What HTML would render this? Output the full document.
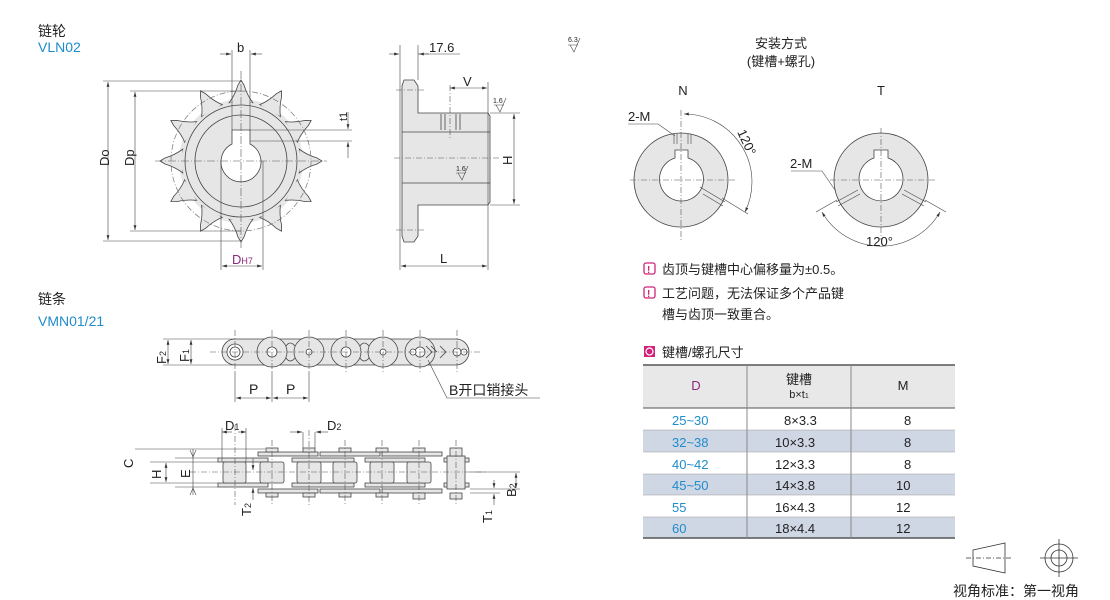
<!DOCTYPE html>
<html><head><meta charset="utf-8"><style>
body{margin:0;background:#fff;width:1110px;height:600px;overflow:hidden}
svg{display:block}
text{font-family:"Liberation Sans","Noto Sans CJK SC",sans-serif;fill:#222}
.c{font-family:"Liberation Sans","Noto Sans CJK SC",sans-serif}
</style></head><body>
<svg width="1110" height="600" viewBox="0 0 1110 600" xmlns="http://www.w3.org/2000/svg">
<defs>
<marker id="a" viewBox="0 0 10 6" refX="10" refY="3" markerWidth="8" markerHeight="5" orient="auto-start-reverse"><path d="M0,0L10,3L0,6z" fill="#333"/></marker>
<path id="tooth" d="M-12,-58 Q-6,-66 -3,-76 L0,-81 L3,-76 Q6,-66 12,-58Z" fill="#e6e6e6" stroke="#444" stroke-width="0.8"/>
</defs>
<g stroke="#444" stroke-width="0.8" fill="none">
<!-- titles -->
</g>
<text x="38" y="36" font-size="14">链轮</text>
<text x="38" y="52" font-size="14" style="fill:#1f8ccc">VLN02</text>
<text x="38" y="304" font-size="14">链条</text>
<text x="38" y="326" font-size="14" style="fill:#1f8ccc">VMN01/21</text>

<!-- sprocket front -->
<g transform="translate(241,161)">
<circle r="62" fill="#e6e6e6" stroke="none"/>
<g>
<use href="#tooth"/><use href="#tooth" transform="rotate(30)"/><use href="#tooth" transform="rotate(60)"/><use href="#tooth" transform="rotate(90)"/><use href="#tooth" transform="rotate(120)"/><use href="#tooth" transform="rotate(150)"/><use href="#tooth" transform="rotate(180)"/><use href="#tooth" transform="rotate(210)"/><use href="#tooth" transform="rotate(240)"/><use href="#tooth" transform="rotate(270)"/><use href="#tooth" transform="rotate(300)"/><use href="#tooth" transform="rotate(330)"/>
</g>
<circle r="59" fill="#e6e6e6" stroke="none"/>
<circle r="70" fill="none" stroke="#777" stroke-width="0.7" stroke-dasharray="6,2,1,2"/>
<circle r="56" fill="#e6e6e6" stroke="#444" stroke-width="0.8"/>
<circle r="46" fill="none" stroke="#444" stroke-width="0.8"/>
<path d="M-9,-17 L-9,-31 L9,-31 L9,-17 A20,20 0 1 1 -9,-17Z" fill="#fff" stroke="#444" stroke-width="0.8"/>
<g stroke="#555" stroke-width="0.6" stroke-dasharray="8,2,1,2"><line x1="-86" y1="0" x2="86" y2="0"/><line x1="0" y1="-90" x2="0" y2="88"/></g>
</g>
<g stroke="#444" stroke-width="0.6" fill="none">
<line x1="103" y1="81" x2="241" y2="81"/><line x1="103" y1="241" x2="241" y2="241"/>
<line x1="108" y1="82" x2="108" y2="240" marker-start="url(#a)" marker-end="url(#a)"/>
<line x1="130" y1="91" x2="241" y2="91"/><line x1="130" y1="231" x2="241" y2="231"/>
<line x1="135" y1="92" x2="135" y2="230" marker-start="url(#a)" marker-end="url(#a)"/>
<line x1="232" y1="50" x2="232" y2="130"/><line x1="250" y1="50" x2="250" y2="130"/>
<line x1="220" y1="54" x2="231" y2="54" marker-end="url(#a)"/><line x1="262" y1="54" x2="251" y2="54" marker-end="url(#a)"/>
<line x1="250" y1="130" x2="352" y2="130"/><line x1="250" y1="141" x2="352" y2="141"/>
<line x1="348" y1="112" x2="348" y2="129" marker-end="url(#a)"/><line x1="348" y1="158" x2="348" y2="142" marker-end="url(#a)"/>
<line x1="221" y1="161" x2="221" y2="270"/><line x1="263" y1="161" x2="263" y2="270"/>
<line x1="222" y1="266" x2="262" y2="266" marker-start="url(#a)" marker-end="url(#a)"/>
</g>
<text x="237" y="52" font-size="13">b</text>
<text x="0" y="0" font-size="13" transform="translate(109,166) rotate(-90)">Do</text>
<text x="0" y="0" font-size="13" transform="translate(134,166) rotate(-90)">Dp</text>
<text x="0" y="0" font-size="11" transform="translate(347,121) rotate(-90)">t1</text>
<text x="232" y="264" font-size="13" style="fill:#8b2a7e">D<tspan font-size="9">H7</tspan></text>

<!-- sprocket side -->
<g stroke="#444" stroke-width="0.8">
<path d="M404,80 L414,80 L418,86 L418,113 L488,113 L490,116 L490,202 L488,205 L418,205 L418,236 L414,242 L404,242 L402,236 L402,86Z" fill="#e6e6e6"/>
<line x1="402" y1="132" x2="490" y2="132"/><line x1="402" y1="183" x2="490" y2="183"/>
<line x1="441" y1="114" x2="441" y2="130"/><line x1="445" y1="114" x2="445" y2="130"/><line x1="456" y1="114" x2="456" y2="130"/><line x1="460" y1="114" x2="460" y2="130"/>
</g>
<g stroke="#555" stroke-width="0.6" fill="none" stroke-dasharray="6,2,1,2">
<line x1="394" y1="158" x2="500" y2="158"/><line x1="396" y1="90" x2="424" y2="90"/><line x1="396" y1="230" x2="424" y2="230"/><line x1="450" y1="85" x2="450" y2="140"/>
</g>
<g stroke="#444" stroke-width="0.6" fill="none">
<line x1="400" y1="45" x2="400" y2="270"/><line x1="418" y1="45" x2="418" y2="80"/>
<line x1="389" y1="54" x2="399" y2="54" marker-end="url(#a)"/><line x1="429" y1="54" x2="419" y2="54" marker-end="url(#a)"/><line x1="418" y1="54" x2="460" y2="54"/>
<line x1="488" y1="82" x2="488" y2="270"/>
<line x1="450" y1="88" x2="487" y2="88" marker-start="url(#a)" marker-end="url(#a)"/>
<line x1="490" y1="113" x2="520" y2="113"/><line x1="490" y1="205" x2="520" y2="205"/>
<line x1="514" y1="114" x2="514" y2="204" marker-start="url(#a)" marker-end="url(#a)"/>
<line x1="401" y1="266" x2="487" y2="266" marker-start="url(#a)" marker-end="url(#a)"/>
<path d="M496,105 L500,112 L506,98 M494,105 L504,105"/>
<path d="M458,173 L462,180 L468,166 M456,173 L466,173"/>
<path d="M570,45 L574,52 L580,38 M568,45 L578,45"/>
</g>
<text x="429" y="52" font-size="13">17.6</text>
<text x="463" y="86" font-size="13">V</text>
<text x="0" y="0" font-size="13" transform="translate(512,165) rotate(-90)">H</text>
<text x="440" y="263" font-size="13">L</text>
<text x="493" y="103" font-size="7">1.6</text>
<text x="456" y="171" font-size="7">1.6</text>
<text x="568" y="42" font-size="7">6.3</text>

<!-- chain top -->
<g stroke="#444" stroke-width="0.8">
<path d="M235,339 L456,339 A13,13 0 0 1 456,365 L235,365 A13,13 0 0 1 235,339Z" fill="#e6e6e6"/>
<g fill="#e6e6e6"><circle cx="272" cy="352" r="15"/><circle cx="309" cy="352" r="15"/><circle cx="346" cy="352" r="15"/><circle cx="383" cy="352" r="15"/><circle cx="420" cy="352" r="15"/></g>
<path d="M286,346 Q290,340 295,346 M286,358 Q290,364 295,358 M360,346 Q364,340 369,346 M360,358 Q364,364 369,358" fill="#e6e6e6"/>
<circle cx="235" cy="352" r="8" fill="#fff"/><circle cx="235" cy="352" r="5" fill="#fff"/>
<g fill="#fff"><circle cx="272" cy="352" r="5"/><circle cx="346" cy="352" r="5"/><circle cx="420" cy="352" r="5"/><circle cx="309" cy="352" r="3"/><circle cx="383" cy="352" r="3"/><circle cx="457" cy="352" r="4"/><circle cx="464" cy="352" r="3"/><circle cx="413" cy="352" r="3"/></g>
<path d="M426,346 L432,352 L426,358 M431,346 L437,352 M440,346 L446,352 L440,358" fill="none"/>
</g>
<g stroke="#555" stroke-width="0.6" stroke-dasharray="6,2,1,2" fill="none"><line x1="210" y1="352" x2="480" y2="352"/>
<line x1="235" y1="330" x2="235" y2="372"/><line x1="272" y1="330" x2="272" y2="372"/><line x1="309" y1="330" x2="309" y2="372"/><line x1="346" y1="330" x2="346" y2="372"/><line x1="383" y1="330" x2="383" y2="372"/><line x1="420" y1="330" x2="420" y2="372"/><line x1="457" y1="330" x2="457" y2="372"/></g>
<g stroke="#444" stroke-width="0.6" fill="none">
<line x1="163" y1="339" x2="235" y2="339"/><line x1="163" y1="365" x2="235" y2="365"/>
<line x1="168" y1="340" x2="168" y2="364" marker-start="url(#a)" marker-end="url(#a)"/>
<line x1="191" y1="340" x2="191" y2="364" marker-start="url(#a)" marker-end="url(#a)"/>
<line x1="235" y1="372" x2="235" y2="402"/><line x1="272" y1="372" x2="272" y2="402"/><line x1="309" y1="372" x2="309" y2="402"/>
<line x1="236" y1="398" x2="271" y2="398" marker-start="url(#a)" marker-end="url(#a)"/><line x1="273" y1="398" x2="308" y2="398" marker-start="url(#a)" marker-end="url(#a)"/>
<path d="M428,360 L447,398 L540,398"/>
</g>
<text x="0" y="0" font-size="13" transform="translate(166,364) rotate(-90)">F<tspan font-size="9">2</tspan></text>
<text x="0" y="0" font-size="13" transform="translate(189,362) rotate(-90)">F<tspan font-size="9">1</tspan></text>
<text x="249" y="394" font-size="14">P</text><text x="286" y="394" font-size="14">P</text>
<text x="449" y="395" font-size="14">B开口销接头</text>

<!-- chain bottom -->
<g stroke="#444" stroke-width="0.8" fill="#e6e6e6">
<rect x="258" y="452" width="60" height="4"/><rect x="320" y="452" width="60" height="4"/><rect x="382" y="452" width="60" height="4"/>
<rect x="258" y="489" width="60" height="4"/><rect x="320" y="489" width="60" height="4"/><rect x="382" y="489" width="60" height="4"/>
<rect x="218" y="458" width="50" height="4"/><rect x="292" y="458" width="62" height="4"/><rect x="365" y="458" width="60" height="4"/><rect x="444" y="458" width="25" height="4"/>
<rect x="218" y="483" width="50" height="4"/><rect x="292" y="483" width="62" height="4"/><rect x="365" y="483" width="60" height="4"/><rect x="444" y="483" width="25" height="4"/>
<rect x="223" y="462" width="23" height="21" rx="2"/><rect x="260" y="462" width="24" height="21" rx="2"/><rect x="297" y="462" width="24" height="21" rx="2"/><rect x="333" y="462" width="24" height="21" rx="2"/><rect x="370" y="462" width="24" height="21" rx="2"/><rect x="407" y="462" width="24" height="21" rx="2"/>
<rect x="447" y="456" width="18" height="33"/>
<rect x="266" y="448" width="12" height="4"/><rect x="303" y="448" width="12" height="4"/><rect x="339" y="448" width="12" height="4"/><rect x="376" y="448" width="12" height="4"/><rect x="413" y="448" width="12" height="4"/><rect x="450" y="448" width="12" height="8"/>
<rect x="266" y="493" width="12" height="4"/><rect x="303" y="493" width="12" height="4"/><rect x="339" y="493" width="12" height="4"/><rect x="376" y="493" width="12" height="4"/><rect x="413" y="493" width="12" height="6"/><rect x="450" y="493" width="12" height="6"/>
</g>
<g stroke="#555" stroke-width="0.6" stroke-dasharray="6,2,1,2" fill="none"><line x1="190" y1="472" x2="485" y2="472"/>
<line x1="235" y1="425" x2="235" y2="505"/><line x1="272" y1="440" x2="272" y2="505"/><line x1="309" y1="430" x2="309" y2="505"/><line x1="345" y1="440" x2="345" y2="505"/><line x1="382" y1="440" x2="382" y2="505"/><line x1="419" y1="440" x2="419" y2="505"/><line x1="456" y1="440" x2="456" y2="505"/></g>
<g stroke="#444" stroke-width="0.6" fill="none">
<line x1="222" y1="428" x2="222" y2="462"/><line x1="246" y1="428" x2="246" y2="462"/>
<line x1="222" y1="432" x2="232" y2="432" marker-start="url(#a)"/><line x1="238" y1="432" x2="246" y2="432" marker-end="url(#a)"/>
<line x1="303" y1="432" x2="303" y2="448"/><line x1="315" y1="432" x2="315" y2="448"/>
<line x1="290" y1="432" x2="302" y2="432" marker-end="url(#a)"/><line x1="328" y1="432" x2="316" y2="432" marker-end="url(#a)"/>
<line x1="135" y1="449" x2="265" y2="449"/><line x1="150" y1="462" x2="218" y2="462"/><line x1="150" y1="483" x2="218" y2="483"/><line x1="175" y1="458" x2="218" y2="458"/><line x1="175" y1="487" x2="218" y2="487"/>
<line x1="166" y1="463" x2="166" y2="482" marker-start="url(#a)" marker-end="url(#a)"/>
<line x1="193" y1="449" x2="193" y2="495"/>
<path d="M190,450 L193,457 L196,450 M190,495 L193,488 L196,495"/>
<line x1="253" y1="458" x2="253" y2="470" marker-end="url(#a)"/><line x1="253" y1="500" x2="253" y2="488" marker-end="url(#a)"/>
<line x1="470" y1="472" x2="520" y2="472"/><line x1="470" y1="489" x2="520" y2="489"/><line x1="470" y1="493" x2="500" y2="493"/>
<line x1="516" y1="473" x2="516" y2="488" marker-start="url(#a)" marker-end="url(#a)"/>
<line x1="494" y1="480" x2="494" y2="488" marker-end="url(#a)"/><line x1="494" y1="505" x2="494" y2="494" marker-end="url(#a)"/>
</g>
<text x="225" y="430" font-size="13">D<tspan font-size="9">1</tspan></text>
<text x="327" y="430" font-size="13">D<tspan font-size="9">2</tspan></text>
<text x="0" y="0" font-size="13" transform="translate(133,468) rotate(-90)">C</text>
<text x="0" y="0" font-size="13" transform="translate(161,479) rotate(-90)">H</text>
<text x="0" y="0" font-size="13" transform="translate(190,478) rotate(-90)">E</text>
<text x="0" y="0" font-size="13" transform="translate(251,516) rotate(-90)">T<tspan font-size="9">2</tspan></text>
<text x="0" y="0" font-size="13" transform="translate(492,523) rotate(-90)">T<tspan font-size="9">1</tspan></text>
<text x="0" y="0" font-size="13" transform="translate(516,497) rotate(-90)">B<tspan font-size="9">2</tspan></text>

<!-- install -->
<text x="781" y="48" font-size="13" text-anchor="middle">安装方式</text>
<text x="781" y="66" font-size="13" text-anchor="middle">(键槽+螺孔)</text>
<text x="683" y="95" font-size="13" text-anchor="middle">N</text>
<text x="881" y="95" font-size="13" text-anchor="middle">T</text>
<g stroke="#444" stroke-width="0.8">
<circle cx="681" cy="180" r="47" fill="#e6e6e6"/>
<path d="M675,158 L675,150 L688,150 L688,158 A22,22 0 1 1 675,158Z" fill="#fff"/>
<circle cx="881" cy="180" r="47" fill="#e6e6e6"/>
<path d="M874,158 L874,150 L888,150 L888,158 A22,22 0 1 1 874,158Z" fill="#fff"/>
</g>
<g stroke="#555" stroke-width="0.6" stroke-dasharray="6,2,1,2" fill="none">
<line x1="630" y1="180" x2="736" y2="180"/><line x1="681" y1="110" x2="681" y2="240"/>
<line x1="830" y1="180" x2="936" y2="180"/><line x1="881" y1="128" x2="881" y2="240"/>
</g>
<g stroke="#444" stroke-width="0.6" fill="none">
<path d="M674,134v10M677,134v10M688,134v10M691,134v10"/>
<path d="M705,190l20,12M703,194l20,12M700,187l5,3M708,197l5,3"/>
<path d="M858,190l-22,12M860,194l-22,12M904,190l22,12M902,194l22,12"/>
<path d="M684,114 A68,68 0 0 1 745,212" marker-start="url(#a)" marker-end="url(#a)"/>
<line x1="722" y1="198" x2="748" y2="214"/>
<path d="M822,212 A68,68 0 0 0 940,212" marker-start="url(#a)" marker-end="url(#a)"/>
<line x1="837" y1="200" x2="816" y2="212"/><line x1="925" y1="200" x2="946" y2="212"/>
<path d="M628,124 L658,124 L675,136"/>
<path d="M791,171 L822,171 L835,190"/>
</g>
<text x="628" y="121" font-size="13">2-M</text>
<text x="790" y="168" font-size="13">2-M</text>
<text x="0" y="0" font-size="13" transform="translate(737,132) rotate(65)">120°</text>
<text x="866" y="246" font-size="13">120°</text>

<!-- notes -->
<g stroke="#d1237a" stroke-width="1.3" fill="#fff"><rect x="644" y="263" width="11" height="11" rx="2"/><rect x="644" y="287" width="11" height="11" rx="2"/></g>
<text x="647" y="273" font-size="10" font-weight="bold" style="fill:#d1237a">!</text>
<text x="647" y="297" font-size="10" font-weight="bold" style="fill:#d1237a">!</text>
<text x="662" y="274" font-size="13">齿顶与键槽中心偏移量为±0.5。</text>
<text x="662" y="298" font-size="13">工艺问题，无法保证多个产品键</text>
<text x="662" y="319" font-size="13">槽与齿顶一致重合。</text>
<rect x="644" y="346" width="11" height="11" fill="#d1237a"/><circle cx="649.5" cy="351.5" r="3.5" fill="none" stroke="#fff" stroke-width="1.2"/>
<text x="662" y="357" font-size="13">键槽/螺孔尺寸</text>

<!-- table -->
<rect x="643" y="365" width="312" height="43" fill="#e8e8e8"/>
<g fill="#cfd6e4"><rect x="643" y="430" width="312" height="22"/><rect x="643" y="474" width="312" height="21"/><rect x="643" y="517" width="312" height="21"/></g>
<g stroke="#555" stroke-width="1"><line x1="643" y1="365" x2="955" y2="365" stroke-width="1.5"/><line x1="643" y1="408" x2="955" y2="408"/><line x1="643" y1="538" x2="955" y2="538" stroke-width="1.5"/>
<line x1="747" y1="365" x2="747" y2="538" stroke="#888"/><line x1="851" y1="365" x2="851" y2="538" stroke="#888"/></g>
<g stroke="#999" stroke-width="0.6"><line x1="643" y1="430" x2="955" y2="430"/><line x1="643" y1="452" x2="955" y2="452"/><line x1="643" y1="474" x2="955" y2="474"/><line x1="643" y1="495" x2="955" y2="495"/><line x1="643" y1="517" x2="955" y2="517"/></g>
<text x="696" y="390" font-size="13" text-anchor="middle" style="fill:#8b2a7e">D</text>
<text x="799" y="384" font-size="13" text-anchor="middle">键槽</text>
<text x="799" y="398" font-size="11" text-anchor="middle">b×t<tspan font-size="7">1</tspan></text>
<text x="903" y="390" font-size="13" text-anchor="middle">M</text>
<g font-size="13" style="fill:#1f8ccc">
<text x="672" y="425" style="fill:#1f8ccc">25~30</text><text x="672" y="447" style="fill:#1f8ccc">32~38</text><text x="672" y="469" style="fill:#1f8ccc">40~42</text><text x="672" y="490" style="fill:#1f8ccc">45~50</text><text x="672" y="512" style="fill:#1f8ccc">55</text><text x="672" y="533" style="fill:#1f8ccc">60</text>
</g>
<g font-size="13"><text x="784" y="425">8×3.3</text><text x="775" y="447">10×3.3</text><text x="775" y="469">12×3.3</text><text x="775" y="490">14×3.8</text><text x="775" y="512">16×4.3</text><text x="775" y="533">18×4.4</text>
<text x="904" y="425">8</text><text x="904" y="447">8</text><text x="904" y="469">8</text><text x="896" y="490">10</text><text x="896" y="512">12</text><text x="896" y="533">12</text></g>

<!-- projection symbol -->
<g stroke="#333" stroke-width="0.8" fill="none">
<path d="M973,550 L1005,543 L1005,573 L973,566Z"/>
<line x1="966" y1="558" x2="1012" y2="558" stroke-dasharray="5,2,1,2"/>
<circle cx="1059" cy="558" r="14"/><circle cx="1059" cy="558" r="8"/>
<line x1="1040" y1="558" x2="1078" y2="558"/><line x1="1059" y1="539" x2="1059" y2="577"/>
</g>
<text x="953" y="596" font-size="14">视角标准：第一视角</text>
</svg>
</body></html>
